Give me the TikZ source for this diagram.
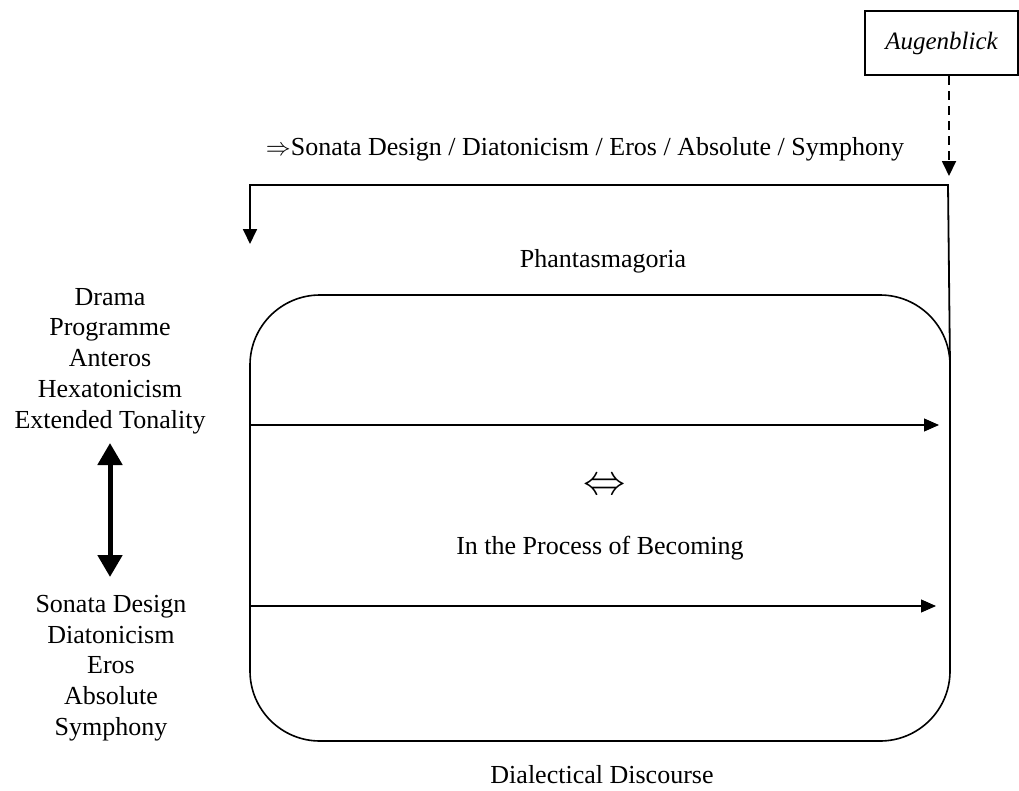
\documentclass[tikz,border=0pt]{standalone}
\usepackage{fontspec}
\setmainfont{Liberation Serif}
\usetikzlibrary{arrows.meta}
\begin{document}
\begin{tikzpicture}[x=1pt,y=-1pt,
  lbl/.style={font=\fontsize{26}{30}\selectfont, inner sep=0pt, align=center},
  frame/.style={draw, line width=1.6pt},
  thinarrow/.style={line width=1.1pt, -{Triangle[length=15pt,width=13pt]}},
  boldarrow/.style={line width=1.8pt, -{Triangle[length=15pt,width=14pt]}}
]
\useasboundingbox (0,0) rectangle (1019,790);
% Augenblick box
\node[frame, lbl, font=\fontsize{25}{30}\selectfont\itshape, minimum width=153pt, minimum height=64pt] (aug) at (941.5,43) {Augenblick};
\coordinate (dtop) at (949,76);
\coordinate (dend) at (949,176);
\draw[boldarrow, dashed, dash pattern=on 9pt off 6pt] (dtop) -- (dend);
% top label
\node[lbl] (toptxt) at (585,149) {$\Rightarrow$Sonata Design / Diatonicism / Eros / Absolute / Symphony};
% return path
\coordinate (tr) at (948,185);
\coordinate (tl) at (250,185);
\coordinate (tip) at (250,244);
\coordinate (join) at (950,366);
\draw[boldarrow] (join) -- (tr) -- (tl) -- (tip);
% frame
\node[frame, rounded corners=70pt, minimum width=700pt, minimum height=446pt, inner sep=0pt] (box) at (600,518) {};
\node[lbl] (phan) at (603,261) {Phantasmagoria};
\node[lbl] (dial) at (602,775) {Dialectical Discourse};
% inner arrows
\coordinate (a1s) at (251,425);
\coordinate (a1e) at (939,425);
\coordinate (a2s) at (251,606);
\coordinate (a2e) at (936,606);
\draw[thinarrow] (a1s) -- (a1e);
\draw[thinarrow] (a2s) -- (a2e);
\node[lbl, font=\fontsize{30}{30}\selectfont] (iff) at (605,487) {\scalebox{1.7}{$\Leftrightarrow$}};
\node[lbl] (proc) at (600,548) {In the Process of Becoming};
% left stacks
\node[lbl, font=\fontsize{26}{30.8}\selectfont] (upper) at (110,361) {Drama\\Programme\\Anteros\\Hexatonicism\\Extended Tonality};
\node[lbl, font=\fontsize{26}{30.8}\selectfont] (lower) at (111,668) {Sonata Design\\Diatonicism\\Eros\\Absolute\\Symphony};
\coordinate (dt) at (110,443);
\coordinate (db) at (110,577);
\draw[line width=5pt, {Triangle[length=22pt,width=24pt]}-{Triangle[length=22pt,width=24pt]}] (dt) -- (db);
\end{tikzpicture}
\end{document}
